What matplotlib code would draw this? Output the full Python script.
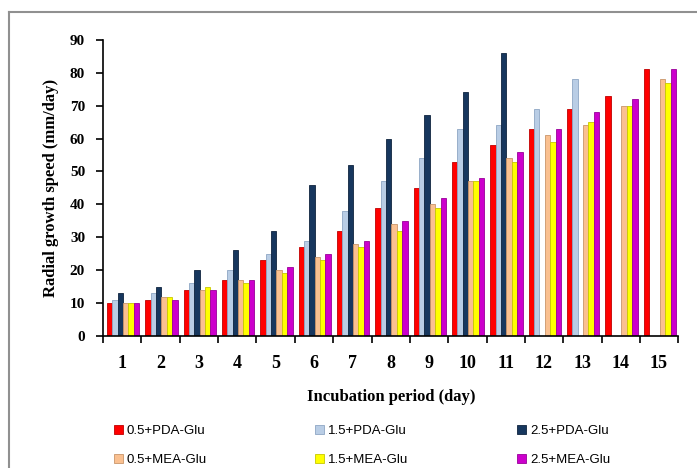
import numpy as np
import matplotlib.pyplot as plt
from matplotlib.lines import Line2D

# Radial growth speed (mm/day)
days = np.arange(1, 16)
pda_05 = [10, 11, 14, 17, 23, 27, 32, 39, 45, 53, 58, 63, 69, 73, 81]
pda_15 = [11, 13, 16, 20, 25, 29, 38, 47, 54, 63, 64, 69, 78, 0, 0]
pda_25 = [13, 15, 20, 26, 32, 46, 52, 60, 67, 74, 86, 0, 0, 0, 0]
mea_05 = [10, 12, 14, 17, 20, 24, 28, 34, 40, 47, 54, 61, 64, 70, 78]
mea_15 = [10, 12, 15, 16, 19, 23, 27, 32, 39, 47, 53, 59, 65, 70, 77]
mea_25 = [10, 11, 14, 17, 21, 25, 29, 35, 42, 48, 56, 63, 68, 72, 81]

series = [pda_05, pda_15, pda_25, mea_05, mea_15, mea_25]
labels = ['0.5+PDA-Glu', '1.5+PDA-Glu', '2.5+PDA-Glu',
          '0.5+MEA-Glu', '1.5+MEA-Glu', '2.5+MEA-Glu']
colors = ['#ff0000', '#b9cde5', '#17375e', '#fac090', '#ffff00', '#cc00cc']
edges = ['#c00000', '#8ea6c4', '#0f243e', '#c9956a', '#c8c800', '#990099']

fig = plt.figure(figsize=(6.97, 4.68), dpi=100)
ax = fig.add_axes([0.148, 0.282, 0.825, 0.633])

w = 0.14
bars = []
for i, (vals, c, e) in enumerate(zip(series, colors, edges)):
    b = ax.bar(days + (i - 2.5) * w + 0.02, vals, width=w, color=c,
               edgecolor=e, linewidth=0.6, label=labels[i])
    bars.append(b)

ax.set_xlim(0.5, 15.5)
ax.set_ylim(0, 90)
ax.set_yticks(np.arange(0, 91, 10))
ax.set_xticks(days)
ax.set_xticks(np.arange(0.5, 15.6, 1), minor=True)
ax.tick_params(axis='x', which='major', length=0, pad=14)
ax.tick_params(axis='x', which='minor', length=5, width=1.2, direction='out')
ax.tick_params(axis='y', length=5, width=1.2, direction='out', pad=8)
for t in ax.get_xticklabels():
    t.set_fontfamily('Liberation Serif')
    t.set_fontsize(13)
    t.set_fontweight('bold')
for t in ax.get_yticklabels():
    t.set_fontfamily('Liberation Serif')
    t.set_fontsize(11)
    t.set_fontweight('bold')

ax.spines['top'].set_visible(False)
ax.spines['right'].set_visible(False)
ax.spines['left'].set_linewidth(1.2)
ax.spines['bottom'].set_linewidth(1.2)

ax.set_ylabel('Radial growth speed (mm/day)', fontfamily='Liberation Serif',
              fontsize=12, fontweight='bold', labelpad=8)
fig.text(0.561, 0.152, 'Incubation period (day)', ha='center', va='center',
         fontfamily='Liberation Serif', fontsize=12, fontweight='bold')

# legend fills column-wise, so reorder to get rows PDA / MEA
order = [0, 3, 1, 4, 2, 5]
fig.legend([bars[k] for k in order], [labels[k] for k in order],
           loc='center', bbox_to_anchor=(0.519, 0.048), ncol=3,
           frameon=False, prop={'family': 'Liberation Sans', 'size': 9.5},
           handlelength=0.7, handleheight=0.7, handletextpad=0.3,
           columnspacing=8.2, labelspacing=1.3)

# grey frame around the chart area
fig.add_artist(Line2D([0.013, 0.013], [0.0, 0.974], color='#909090', lw=1.5, transform=fig.transFigure))
fig.add_artist(Line2D([0.013, 1.0], [0.974, 0.974], color='#909090', lw=1.5, transform=fig.transFigure))

fig.savefig('out.png', dpi=100)
